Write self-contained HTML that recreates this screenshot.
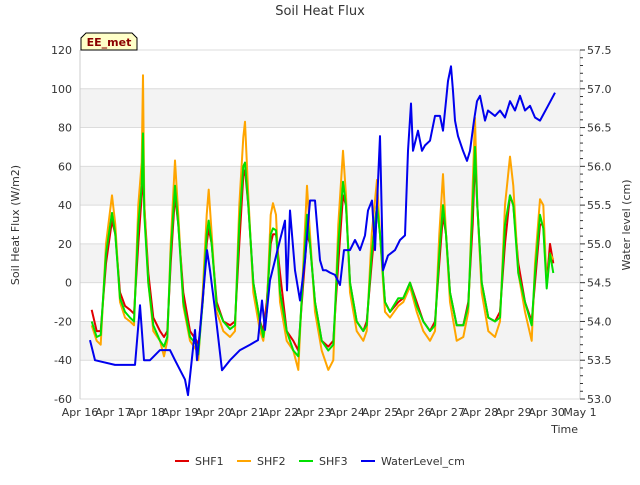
<!DOCTYPE html>
<html><head><meta charset="utf-8"><style>
body{margin:0;background:#fff;}
svg{font-family:"DejaVu Sans","Liberation Sans",sans-serif;}
</style></head><body>
<svg id="c" width="640" height="480" xmlns="http://www.w3.org/2000/svg">
<rect width="640" height="480" fill="#fff"/>
<g id="bands"></g>
<g id="grid"></g>
<g id="series"></g>
<g id="axes"></g>
<text x="320" y="15" text-anchor="middle" font-size="13" fill="#333">Soil Heat Flux</text>
<text transform="translate(19,225) rotate(-90)" text-anchor="middle" font-size="11" fill="#333">Soil Heat Flux (W/m2)</text>
<text transform="translate(630,225) rotate(-90)" text-anchor="middle" font-size="11" fill="#333">Water level (cm)</text>
<text x="578" y="433" text-anchor="end" font-size="11" fill="#333">Time</text>
<g>
<path d="M81,50 L81,38 L86,33 L132,33 L137,38 L137,50 Z" fill="#ffffc8" stroke="#000" stroke-width="1"/>
<text x="109" y="46" text-anchor="middle" font-size="11" font-weight="bold" fill="#8b0000">EE_met</text>
</g>
<g id="legend"></g>
</svg>
<script>
const fluxTimes=[0.35,0.5,0.62,0.78,0.96,1.06,1.2,1.35,1.5,1.62,1.75,1.85,1.89,1.93,2.05,2.2,2.4,2.52,2.62,2.72,2.85,2.95,3.1,3.3,3.5,3.55,3.68,3.8,3.86,3.95,4.1,4.3,4.5,4.65,4.78,4.9,4.95,5.05,5.2,5.4,5.5,5.6,5.72,5.79,5.88,6.0,6.2,6.4,6.55,6.7,6.81,6.9,7.05,7.25,7.45,7.6,7.75,7.89,7.98,8.1,8.3,8.5,8.6,8.75,8.91,9.0,9.15,9.3,9.55,9.7,9.9,10.1,10.3,10.5,10.65,10.78,10.89,10.98,11.1,11.3,11.5,11.65,11.78,11.85,11.92,12.05,12.25,12.45,12.6,12.75,12.9,13.0,13.15,13.35,13.55,13.65,13.8,13.9,14.0,14.1,14.2];
const shf1=[-14,-25,-25,10,32,25,-5,-12,-14,-16,20,45,55,40,5,-18,-25,-28,-25,10,45,30,-5,-25,-30,-34,-10,20,28,20,-10,-20,-22,-20,20,55,58,40,0,-20,-25,-10,20,25,25,5,-25,-30,-35,0,25,20,-10,-30,-33,-30,10,45,40,0,-20,-25,-20,10,40,25,-10,-15,-10,-8,0,-10,-20,-25,-20,10,35,25,-5,-22,-22,-10,30,65,40,0,-18,-20,-15,20,45,40,10,-10,-20,0,30,30,0,20,10];
const shf2=[-22,-30,-32,20,45,30,-10,-18,-20,-22,40,62,107,40,0,-25,-30,-38,-30,20,63,35,-12,-30,-35,-40,-5,35,48,25,-15,-25,-28,-25,40,75,83,45,-5,-25,-30,-15,35,41,35,-10,-30,-35,-45,10,50,25,-15,-35,-45,-40,30,68,45,-5,-25,-30,-25,25,53,25,-15,-18,-12,-10,-2,-15,-25,-30,-25,25,56,25,-10,-30,-28,-15,50,85,40,-5,-25,-28,-20,40,65,50,5,-15,-30,10,43,40,-2,15,12];
const shf3=[-20,-28,-27,15,36,25,-8,-15,-18,-20,30,50,77,35,0,-22,-30,-33,-28,15,50,30,-10,-28,-32,-37,-10,25,32,20,-12,-20,-24,-22,30,60,62,40,0,-20,-28,-15,25,28,27,-5,-25,-35,-38,5,35,20,-10,-30,-35,-32,20,52,40,0,-20,-25,-22,15,40,25,-10,-15,-8,-8,0,-12,-20,-25,-22,15,40,25,-5,-22,-22,-12,40,70,40,0,-18,-20,-18,30,45,40,5,-10,-22,5,35,28,-3,15,5];
const waterTimes=[0.3,0.45,1.05,1.65,1.8,1.92,2.1,2.4,2.7,2.85,3.15,3.24,3.45,3.51,3.6,3.81,3.9,4.05,4.26,4.5,4.8,5.1,5.34,5.46,5.55,5.7,5.85,6.0,6.15,6.21,6.3,6.45,6.6,6.75,6.9,7.05,7.2,7.29,7.38,7.5,7.65,7.8,7.92,8.1,8.25,8.4,8.55,8.64,8.76,8.85,9.0,9.09,9.24,9.45,9.6,9.75,9.84,9.93,9.99,10.14,10.26,10.35,10.5,10.65,10.8,10.89,10.98,11.04,11.13,11.19,11.25,11.34,11.49,11.61,11.7,11.82,11.91,12.0,12.15,12.24,12.45,12.6,12.75,12.9,13.05,13.2,13.35,13.5,13.65,13.8,14.04,14.25];
const waterLevel=[53.76,53.5,53.44,53.44,54.21,53.5,53.5,53.63,53.63,53.5,53.25,53.05,53.89,53.5,53.89,54.92,54.66,54.15,53.37,53.5,53.63,53.7,53.76,54.27,53.89,54.53,54.79,55.05,55.3,54.4,55.43,54.66,54.27,54.79,55.56,55.56,54.79,54.66,54.66,54.63,54.6,54.47,54.92,54.92,55.05,54.92,55.11,55.43,55.56,54.92,56.39,54.66,54.85,54.92,55.05,55.11,56.2,56.81,56.2,56.46,56.2,56.27,56.33,56.65,56.65,56.46,56.84,57.1,57.29,56.97,56.59,56.39,56.2,56.07,56.2,56.59,56.84,56.91,56.59,56.72,56.65,56.72,56.63,56.84,56.72,56.91,56.72,56.78,56.63,56.59,56.78,56.95];
const yTicks=[-60,-40,-20,0,20,40,60,80,100,120];
const y2Ticks=[53.0,53.5,54.0,54.5,55.0,55.5,56.0,56.5,57.0,57.5];
const xTickLabels=["Apr 16","Apr 17","Apr 18","Apr 19","Apr 20","Apr 21","Apr 22","Apr 23","Apr 24","Apr 25","Apr 26","Apr 27","Apr 28","Apr 29","Apr 30","May 1"];
const bandRanges=[[-40,-20],[0,20],[40,60],[80,100]];

const L=80,R=580,T=50,B=399,NS="http://www.w3.org/2000/svg";
const xs=t=>L+t*(R-L)/15;
const ys=v=>B-(v+60)*(B-T)/180;
const y2s=v=>B-(v-53)*(B-T)/4.5;
function mk(tag,attrs,parent){const e=document.createElementNS(NS,tag);for(const k in attrs)e.setAttribute(k,attrs[k]);parent.appendChild(e);return e;}
const bands=document.getElementById('bands'),grid=document.getElementById('grid'),ser=document.getElementById('series'),ax=document.getElementById('axes'),leg=document.getElementById('legend');
bandRanges.forEach(b=>{const r=mk('rect',{x:L,y:ys(b[1]),width:R-L,height:ys(b[0])-ys(b[1]),fill:'#f3f3f3'},bands);

});
yTicks.forEach(v=>{const l=mk('line',{x1:L,x2:R,y1:ys(v),y2:ys(v),stroke:'#dcdcdc','stroke-width':1},grid);


const t=mk('text',{x:L-8,y:ys(v)+4,'text-anchor':'end','font-size':11,fill:'#333'},ax);t.textContent=v;

});
mk('line',{x1:L,x2:L,y1:T,y2:B,stroke:'#ccc'},ax);
mk('line',{x1:R,x2:R,y1:T,y2:B,stroke:'#ccc'},ax);
y2Ticks.forEach(v=>{const t=mk('text',{x:R+7,y:y2s(v)+4,'font-size':11,fill:'#333'},ax);t.textContent=v.toFixed(1);

});
for(let i=0;i<=45;i++){const v=53+i*0.1;mk('line',{x1:R,x2:R+(i%5==0?5:3),y1:y2s(v),y2:y2s(v),stroke:'#333'},ax);}
xTickLabels.forEach((s,i)=>{const t=mk('text',{x:xs(i),y:B+17,'text-anchor':'middle','font-size':11,fill:'#333'},ax);t.textContent=s;

});
function line(times,vals,sc,color,name){const d=times.map((t,i)=>(i?'L':'M')+xs(t).toFixed(1)+','+sc(vals[i]).toFixed(1)).join('');
const p=mk('path',{d:d,fill:'none',stroke:color,'stroke-width':2,'stroke-linejoin':'round'},ser);

}
line(fluxTimes,shf1,ys,'#e00000','shf1-line');
line(fluxTimes,shf2,ys,'#ffa500','shf2-line');
line(fluxTimes,shf3,ys,'#00e000','shf3-line');
line(waterTimes,waterLevel,y2s,'#0000ee','waterlevel-line');
const items=[['SHF1','#e00000',175],['SHF2','#ffa500',237],['SHF3','#00e000',299],['WaterLevel_cm','#0000ee',361]];
items.forEach(it=>{const g=mk('g',{},leg);


mk('line',{x1:it[2],x2:it[2]+14,y1:461,y2:461,stroke:it[1],'stroke-width':2},g);
const t=mk('text',{x:it[2]+20,y:465,'font-size':11,fill:'#333'},g);t.textContent=it[0];});
</script>
</body></html>
